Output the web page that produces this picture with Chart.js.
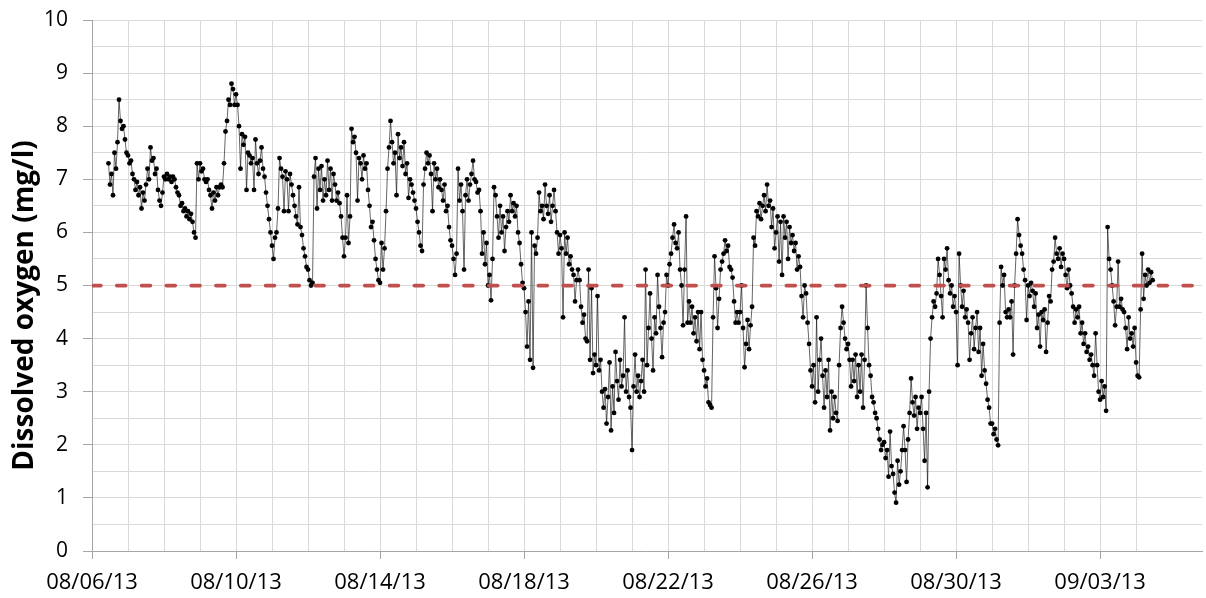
<!DOCTYPE html>
<html>
<head>
<meta charset="utf-8">
<title>Dissolved oxygen</title>
<script src="https://cdn.jsdelivr.net/npm/chart.js@4.4.1/dist/chart.umd.min.js"></script>
<style>
  html, body { margin: 0; padding: 0; background: #fff; }
  #chart { display: block; }
</style>
</head>
<body>
<canvas id="chart" width="1206" height="598"></canvas>
<script>
// Hourly dissolved oxygen (mg/l), one array per day
const firstHour = 11; // first reading on 08/06 is at about 11:00
const aug06 = [7.3, 6.9, 7.1, 6.7, 7.5, 7.2, 7.7, 8.5, 8.1, 7.95, 8.0, 7.75, 7.5];
const aug07 = [7.45, 7.3, 7.35, 7.1, 7.0, 6.8, 6.95, 6.7, 6.85, 6.45, 6.75, 6.6, 6.9, 7.2, 7.0, 7.6, 7.35, 7.4, 7.1, 7.2, 6.8, 6.6, 6.5, 6.75];
const aug08 = [7.05, 7.0, 7.1, 7.0, 7.05, 6.95, 7.05, 7.0, 6.85, 6.75, 6.7, 6.5, 6.55, 6.4, 6.45, 6.3, 6.4, 6.25, 6.35, 6.2, 6.0, 5.9, 7.3, 7.0];
const aug09 = [7.3, 7.15, 7.2, 7.0, 6.95, 7.0, 6.8, 6.7, 6.45, 6.75, 6.6, 6.85, 6.7, 6.85, 6.9, 6.85, 7.3, 7.9, 8.1, 8.5, 8.4, 8.8, 8.7, 8.4];
const aug10 = [8.6, 8.4, 8.0, 7.2, 7.85, 7.65, 7.8, 6.8, 7.5, 7.45, 7.3, 7.4, 6.8, 7.75, 7.3, 7.1, 7.35, 7.6, 7.2, 7.05, 6.75, 6.5, 6.25, 6.0];
const aug11 = [5.75, 5.5, 5.9, 6.0, 6.45, 7.4, 7.2, 7.05, 6.4, 7.15, 7.0, 6.4, 7.1, 6.9, 6.7, 6.5, 6.3, 6.15, 6.85, 6.1, 5.95, 5.7, 5.55, 5.35];
const aug12 = [5.3, 5.1, 5.0, 5.05, 7.05, 7.4, 6.45, 7.2, 6.8, 7.25, 6.6, 7.0, 6.7, 7.35, 6.8, 7.2, 6.6, 7.1, 6.9, 6.6, 6.75, 6.55, 6.3, 5.9];
const aug13 = [5.55, 5.9, 6.7, 5.8, 6.3, 7.95, 7.7, 7.8, 7.5, 6.6, 7.4, 7.3, 7.0, 7.45, 7.2, 7.3, 6.8, 6.5, 6.1, 6.2, 5.85, 5.5, 5.3, 5.1];
const aug14 = [5.05, 5.8, 5.3, 5.7, 6.4, 7.2, 7.6, 8.1, 7.7, 7.3, 7.5, 6.7, 7.85, 7.4, 7.6, 7.25, 7.7, 7.1, 7.3, 6.65, 7.0, 6.9, 6.75, 6.6];
const aug15 = [6.45, 6.2, 6.0, 5.75, 5.65, 6.9, 7.2, 7.5, 7.3, 7.45, 7.1, 6.4, 7.3, 7.0, 7.2, 6.85, 7.0, 6.8, 6.6, 6.9, 6.4, 6.5, 6.1, 5.85];
const aug16 = [5.75, 5.5, 5.2, 5.6, 7.2, 6.6, 6.9, 6.4, 5.3, 6.7, 7.0, 6.6, 6.9, 7.1, 7.35, 7.0, 6.95, 6.75, 6.8, 6.4, 5.6, 6.0, 5.4, 5.8];
const aug17 = [5.0, 5.2, 4.72, 5.5, 6.85, 6.7, 6.3, 5.9, 6.5, 6.0, 6.3, 5.65, 6.1, 6.4, 6.2, 6.7, 6.4, 6.55, 6.3, 6.5, 6.0, 5.8, 5.4, 5.05];
const aug18 = [4.95, 4.5, 3.85, 4.7, 3.6, 6.0, 3.45, 5.75, 5.6, 5.9, 6.75, 6.4, 6.5, 6.25, 6.9, 6.5, 6.35, 6.7, 6.2, 6.5, 6.8, 6.4, 6.0, 5.6];
const aug19 = [5.95, 5.7, 4.4, 6.0, 5.6, 5.9, 5.4, 5.55, 5.3, 5.2, 4.7, 5.1, 5.3, 5.1, 4.6, 4.3, 4.45, 4.0, 3.95, 5.3, 3.6, 4.95, 3.35, 3.7];
const aug20 = [3.5, 4.8, 3.4, 3.6, 3.0, 2.7, 3.05, 2.4, 2.9, 3.55, 2.27, 3.1, 2.6, 3.75, 3.2, 2.85, 3.6, 3.1, 3.3, 4.4, 3.0, 3.4, 2.9, 2.7];
const aug21 = [1.9, 3.1, 3.7, 3.0, 3.3, 2.9, 3.2, 3.6, 3.0, 5.3, 3.5, 4.2, 4.85, 4.0, 3.4, 4.4, 4.1, 5.2, 4.6, 4.2, 3.65, 4.3, 4.5, 5.2];
const aug22 = [5.0, 5.4, 5.6, 5.9, 6.15, 5.8, 5.7, 6.0, 5.3, 5.0, 4.25, 5.3, 6.3, 4.3, 4.7, 4.3, 4.6, 4.1, 4.4, 3.95, 4.5, 3.8, 4.5, 3.6];
const aug23 = [3.4, 3.1, 3.25, 2.8, 2.75, 2.7, 4.4, 5.55, 4.95, 4.2, 4.75, 5.3, 5.45, 5.6, 5.85, 5.65, 5.75, 5.35, 5.3, 5.15, 4.7, 4.3, 4.5, 4.3];
const aug24 = [4.5, 5.0, 4.2, 3.46, 3.9, 4.35, 3.8, 4.25, 4.6, 5.9, 5.75, 6.4, 6.3, 6.55, 6.25, 6.5, 6.7, 6.4, 6.9, 6.5, 6.6, 6.1, 6.45, 5.7];
const aug25 = [6.0, 6.3, 5.45, 6.2, 5.2, 6.3, 5.9, 6.2, 5.5, 6.1, 5.8, 5.95, 5.65, 5.8, 5.3, 5.55, 5.35, 4.8, 4.4, 5.0, 4.85, 4.3, 3.9, 3.4];
const aug26 = [3.1, 3.5, 2.8, 4.4, 3.0, 3.6, 4.0, 3.3, 2.7, 3.4, 2.9, 3.6, 2.27, 3.0, 2.5, 2.9, 2.6, 2.45, 3.5, 4.2, 4.6, 4.3, 4.0, 3.8];
const aug27 = [3.9, 3.6, 3.1, 3.6, 3.2, 3.7, 2.9, 3.5, 3.0, 3.7, 2.7, 3.6, 5.0, 4.2, 3.5, 3.3, 2.9, 2.8, 2.6, 2.5, 2.3, 2.1, 1.9, 2.0];
const aug28 = [2.05, 1.75, 1.9, 1.4, 2.25, 1.6, 1.45, 1.1, 0.91, 1.7, 1.25, 1.5, 1.9, 2.35, 1.9, 1.3, 2.1, 2.6, 3.25, 2.8, 2.55, 2.9, 2.3, 2.7];
const aug29 = [2.6, 2.9, 2.3, 1.7, 2.6, 1.2, 3.0, 4.0, 4.4, 4.7, 4.6, 4.85, 5.5, 5.2, 4.8, 4.4, 5.5, 5.3, 5.7, 5.1, 4.85, 5.0, 4.6, 4.8];
const aug30 = [4.5, 3.5, 5.6, 5.0, 4.6, 4.9, 4.4, 4.55, 4.3, 3.6, 4.1, 4.4, 3.8, 4.2, 4.5, 3.75, 4.2, 3.3, 3.9, 3.4, 3.15, 2.85, 2.7, 2.4];
const aug31 = [2.4, 2.2, 2.3, 2.1, 1.99, 4.3, 5.35, 5.0, 5.2, 4.5, 4.4, 4.55, 4.4, 4.7, 3.7, 5.0, 5.6, 6.25, 5.95, 5.75, 5.6, 5.3, 5.1, 4.35];
const sep01 = [5.0, 4.8, 5.05, 4.9, 4.6, 4.85, 4.2, 4.45, 3.85, 4.5, 4.35, 4.55, 3.75, 4.3, 4.8, 4.7, 5.3, 5.45, 5.9, 5.6, 5.5, 5.7, 5.35, 5.6];
const sep02 = [5.5, 5.2, 4.95, 5.3, 5.0, 4.85, 4.6, 4.3, 4.55, 4.4, 4.6, 4.1, 4.3, 3.9, 4.1, 3.75, 3.85, 3.6, 3.7, 3.5, 3.3, 4.1, 3.5, 3.0];
const sep03 = [2.85, 3.2, 2.9, 3.1, 2.64, 6.1, 5.5, 5.3, 5.0, 4.7, 4.25, 4.6, 5.45, 4.6, 4.75, 4.55, 4.5, 4.2, 3.8, 4.4, 4.0, 4.1, 3.85, 4.2];
const sep04 = [3.55, 3.3, 3.27, 4.55, 5.6, 4.75, 5.2, 5.0, 5.3, 5.05, 5.25, 5.1];

const dailyReadings = [aug06, aug07, aug08, aug09, aug10, aug11, aug12, aug13, aug14, aug15,
  aug16, aug17, aug18, aug19, aug20, aug21, aug22, aug23, aug24, aug25, aug26, aug27,
  aug28, aug29, aug30, aug31, sep01, sep02, sep03, sep04];

const tickLabels = ['08/06/13', '08/10/13', '08/14/13', '08/18/13', '08/22/13', '08/26/13', '08/30/13', '09/03/13'];
const labelEvery = 4;      // days between labelled ticks
const thresholdValue = 5;  // mg/l reference line
const xMax = 30.83;        // days after 08/06/13 shown on the axis
const yMin = 0;
const yMax = 10;
const yTitle = 'Dissolved oxygen (mg/l)';

const axisColor = '#a6a6a6';
const gridColor = '#d9d9d9';
const fontFamily = '"Open Sans", "Noto Sans", sans-serif';

// x is days since 08/06/13 00:00
const doPoints = [];
dailyReadings.forEach((day, d) => {
  const startHour = d === 0 ? firstHour : 0;
  day.forEach((v, i) => doPoints.push({ x: d + (startHour + i) / 24, y: v }));
});
const thresholdPoints = [{ x: 0, y: thresholdValue }, { x: xMax, y: thresholdValue }];

// rotated axis title, placed as in the original
const yTitlePlugin = {
  id: 'yTitle',
  afterDraw(chart) {
    const { ctx, chartArea } = chart;
    ctx.save();
    ctx.translate(33, (chartArea.top + chartArea.bottom) / 2 + 20);
    ctx.rotate(-Math.PI / 2);
    ctx.font = 'bold 28px ' + fontFamily;
    ctx.fillStyle = '#000';
    ctx.textAlign = 'center';
    ctx.textBaseline = 'alphabetic';
    ctx.fillText(yTitle, 0, 0);
    ctx.restore();
  }
};

new Chart(document.getElementById('chart'), {
  type: 'line',
  data: {
    datasets: [
      {
        label: 'Threshold',
        data: thresholdPoints,
        borderColor: '#C0504D',
        borderWidth: 3.75,
        borderDash: [8.8, 16],
        borderCapStyle: 'round',
        pointRadius: 0,
        order: 0
      },
      {
        label: 'Dissolved oxygen',
        data: doPoints,
        borderColor: 'rgba(0, 0, 0, 0.6)',
        borderWidth: 1,
        pointRadius: 2.4,
        pointBackgroundColor: '#000',
        pointBorderWidth: 0,
        tension: 0,
        order: 1
      }
    ]
  },
  options: {
    responsive: false,
    animation: false,
    devicePixelRatio: 1,
    layout: { padding: { top: 20, right: 0, bottom: 0, left: 0 } },
    plugins: {
      legend: { display: false },
      tooltip: { enabled: false }
    },
    scales: {
      x: {
        type: 'linear',
        min: 0,
        max: xMax,
        afterBuildTicks: (scale) => {
          scale.ticks = scale.ticks.filter(t => Number.isInteger(t.value));
        },
        afterFit: (scale) => { scale.height = 47; },
        ticks: {
          stepSize: 1,
          autoSkip: false,
          maxRotation: 0,
          minRotation: 0,
          padding: 11,
          color: '#000',
          font: { family: fontFamily, size: 22 },
          callback: (value) => value % labelEvery === 0 ? (tickLabels[value / labelEvery] || '') : ''
        },
        grid: {
          color: gridColor,
          lineWidth: 1,
          tickLength: 8,
          tickColor: (ctx) => ctx.tick && ctx.tick.value % labelEvery === 0 ? axisColor : 'rgba(0,0,0,0)'
        },
        border: { color: axisColor, width: 1 }
      },
      y: {
        min: yMin,
        max: yMax,
        afterFit: (scale) => {
          scale.width = 92;
          scale.paddingTop = 0;
          scale.paddingBottom = 0;
        },
        ticks: {
          stepSize: 0.5,
          autoSkip: false,
          padding: 15,
          color: '#000',
          font: { family: fontFamily, size: 21 },
          callback: (value) => Number.isInteger(value) ? String(value) : ''
        },
        grid: {
          color: gridColor,
          lineWidth: 1,
          tickLength: 9,
          tickColor: (ctx) => ctx.tick && Number.isInteger(ctx.tick.value) ? axisColor : 'rgba(0,0,0,0)'
        },
        border: { color: axisColor, width: 1 }
      }
    }
  },
  plugins: [yTitlePlugin]
});
</script>
</body>
</html>
